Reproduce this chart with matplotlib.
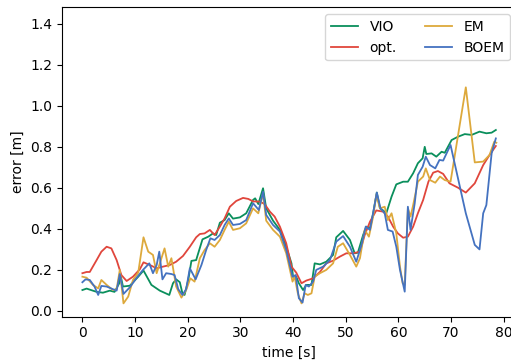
import matplotlib
matplotlib.use("Agg")
import matplotlib.pyplot as plt

vio_t = [0, 0.8, 2.7, 3.9, 5.2, 6.1, 7.0, 7.2, 7.7, 9.0, 10.6, 11.6, 13.1, 14.7, 16.5, 17.2, 17.8, 18.5, 19.0, 19.4,
         20.1, 20.7, 21.6, 22.8, 23.9, 24.8, 25.4, 26.1, 27.0, 27.8, 28.6, 29.9, 31.1, 32.4, 32.8, 33.4, 34.3, 34.9,
         36.2, 37.5, 38.7, 39.7, 40.0, 40.6, 41.1, 41.9, 42.5, 43.5, 44.1, 45.1, 46.3, 47.6, 48.2, 49.5, 50.8, 51.7,
         52.3, 53.3, 53.9, 54.6, 55.2, 55.9, 56.5, 57.1, 57.7, 58.7, 59.6, 60.9, 61.8, 62.8, 63.7, 64.6, 65.0, 65.3,
         66.3, 67.2, 68.2, 68.8, 70.1, 71.3, 72.6, 73.9, 75.4, 76.7, 77.7, 78.5]
vio_v = [0.102, 0.109, 0.093, 0.089, 0.099, 0.093, 0.135, 0.18, 0.119, 0.123, 0.167, 0.197, 0.127, 0.099, 0.078,
         0.135, 0.154, 0.14, 0.085, 0.078, 0.151, 0.244, 0.248, 0.349, 0.362, 0.378, 0.37, 0.43, 0.443, 0.476, 0.45,
         0.456, 0.476, 0.541, 0.549, 0.521, 0.598, 0.50, 0.44, 0.395, 0.313, 0.232, 0.167, 0.167, 0.135, 0.102, 0.127,
         0.127, 0.232, 0.227, 0.24, 0.273, 0.359, 0.39, 0.346, 0.281, 0.284, 0.37, 0.411, 0.403, 0.476, 0.577, 0.50,
         0.49, 0.476, 0.557, 0.617, 0.63, 0.63, 0.671, 0.72, 0.744, 0.80, 0.765, 0.768, 0.752, 0.776, 0.771, 0.833,
         0.849, 0.862, 0.858, 0.874, 0.866, 0.869, 0.882]

opt_t = [0, 0.8, 1.4, 2.7, 3.6, 4.6, 5.5, 6.5, 7.4, 8.4, 9.6, 10.9, 11.6, 12.8, 14.1, 15.3, 16.6, 17.8, 19.1, 20.4,
         21.6, 22.3, 23.2, 24.2, 25.1, 26.1, 27.0, 28.0, 29.2, 30.5, 31.5, 32.4, 33.7, 34.6, 35.6, 36.5, 37.5, 38.7,
         39.7, 40.6, 41.6, 42.5, 43.8, 45.1, 46.3, 47.6, 48.9, 50.1, 51.4, 52.7, 53.6, 54.6, 55.8, 57.1, 58.0, 59.0,
         59.9, 60.9, 61.8, 62.8, 63.7, 64.7, 65.7, 66.6, 67.5, 68.5, 69.7, 71.3, 72.8, 74.5, 76.1, 77.3, 78.5]
opt_v = [0.184, 0.19, 0.19, 0.248, 0.289, 0.313, 0.305, 0.248, 0.175, 0.146, 0.167, 0.203, 0.237, 0.224, 0.208, 0.216,
         0.224, 0.24, 0.268, 0.313, 0.359, 0.375, 0.378, 0.395, 0.37, 0.411, 0.451, 0.508, 0.536, 0.551, 0.546, 0.534,
         0.533, 0.521, 0.484, 0.46, 0.411, 0.33, 0.216, 0.187, 0.135, 0.148, 0.159, 0.19, 0.232, 0.245, 0.265, 0.281,
         0.281, 0.289, 0.37, 0.435, 0.49, 0.484, 0.46, 0.411, 0.378, 0.357, 0.362, 0.411, 0.476, 0.541, 0.63, 0.674,
         0.682, 0.668, 0.622, 0.601, 0.577, 0.622, 0.711, 0.76, 0.804]

em_t = [0, 0.8, 2.0, 3.0, 3.6, 4.6, 5.8, 6.5, 7.1, 7.8, 8.7, 9.6, 10.6, 11.6, 12.5, 13.4, 14.1, 14.7, 15.6, 16.3,
        16.9, 17.8, 18.8, 19.7, 20.5, 21.3, 22.3, 23.2, 24.2, 25.1, 26.1, 27.0, 27.8, 28.6, 29.9, 31.1, 32.4, 33.4,
        34.3, 34.9, 36.2, 37.5, 38.7, 39.9, 40.3, 40.9, 41.6, 42.2, 42.8, 43.5, 44.1, 45.1, 46.3, 47.6, 48.5, 49.5,
        50.8, 52.0, 52.7, 53.6, 54.4, 55.2, 55.8, 56.5, 57.4, 58.0, 58.7, 59.6, 60.3, 60.8, 61.2, 61.8, 62.3, 62.8,
        63.7, 64.7, 65.2, 66.0, 67.0, 67.9, 68.8, 69.9, 72.8, 74.5, 76.1, 77.3, 78.2, 78.6]
em_v = [0.167, 0.162, 0.127, 0.11, 0.151, 0.127, 0.102, 0.106, 0.2, 0.037, 0.07, 0.151, 0.187, 0.359, 0.289, 0.273,
        0.184, 0.232, 0.305, 0.216, 0.257, 0.119, 0.065, 0.102, 0.159, 0.143, 0.257, 0.297, 0.33, 0.313, 0.346, 0.395,
        0.435, 0.395, 0.403, 0.427, 0.50, 0.476, 0.573, 0.44, 0.395, 0.362, 0.281, 0.143, 0.167, 0.086, 0.037, 0.086,
        0.078, 0.086, 0.167, 0.184, 0.2, 0.232, 0.313, 0.33, 0.273, 0.216, 0.257, 0.395, 0.362, 0.46, 0.565, 0.50,
        0.508, 0.443, 0.476, 0.378, 0.216, 0.135, 0.127, 0.50, 0.46, 0.516, 0.63, 0.655, 0.695, 0.638, 0.625, 0.655,
        0.638, 0.63, 1.09, 0.724, 0.728, 0.76, 0.825, 0.82]

boem_t = [0, 0.6, 1.4, 2.3, 3.0, 3.6, 4.6, 5.8, 6.5, 7.1, 7.8, 9.0, 10.3, 11.5, 12.7, 13.4, 14.1, 14.6, 15.2, 15.9,
          16.9, 17.5, 18.2, 19.0, 19.7, 20.4, 21.5, 22.6, 23.5, 24.3, 25.1, 26.1, 27.0, 27.8, 28.6, 29.9, 31.1, 32.4,
          33.5, 34.3, 34.9, 36.2, 37.5, 38.7, 39.9, 40.5, 41.1, 41.8, 42.4, 43.0, 43.8, 44.4, 45.7, 47.0, 48.2, 49.5,
          50.8, 52.0, 53.0, 53.8, 54.6, 55.2, 55.9, 56.6, 57.4, 58.0, 58.9, 59.6, 60.3, 61.2, 61.8, 62.3, 63.1, 63.7,
          64.6, 65.2, 66.0, 67.0, 67.8, 68.5, 69.9, 72.8, 74.5, 75.4, 76.1, 76.7, 77.7, 78.5]
boem_v = [0.14, 0.154, 0.151, 0.119, 0.078, 0.122, 0.119, 0.106, 0.099, 0.18, 0.083, 0.115, 0.162, 0.2, 0.232, 0.184,
          0.224, 0.289, 0.154, 0.184, 0.18, 0.175, 0.106, 0.078, 0.106, 0.208, 0.154, 0.224, 0.297, 0.354, 0.346, 0.37,
          0.419, 0.451, 0.419, 0.424, 0.443, 0.525, 0.492, 0.581, 0.468, 0.419, 0.387, 0.297, 0.167, 0.175, 0.062,
          0.041, 0.127, 0.119, 0.143, 0.2, 0.216, 0.248, 0.338, 0.365, 0.313, 0.24, 0.322, 0.411, 0.395, 0.476, 0.577,
          0.50, 0.476, 0.395, 0.387, 0.313, 0.2, 0.094, 0.508, 0.395, 0.525, 0.663, 0.703, 0.752, 0.711, 0.695, 0.736,
          0.733, 0.809, 0.476, 0.322, 0.30, 0.476, 0.516, 0.768, 0.841]

fig = plt.figure(figsize=(5.11, 3.62), dpi=100)
ax = fig.add_axes([61.7 / 511, 1 - 316.7 / 362, (516.9 - 61.7) / 511, (316.7 - 7.3) / 362])

lw = 1.3
ax.plot(vio_t, vio_v, color='#0a8f5c', lw=lw, label='VIO')
ax.plot(opt_t, opt_v, color='#e0463c', lw=lw, label='opt.')
ax.plot(em_t, em_v, color='#dda93c', lw=lw, label='EM')
ax.plot(boem_t, boem_v, color='#4472c0', lw=lw, label='BOEM')

ax.set_xlim(-3.93, 82.5)
ax.set_ylim(-0.028, 1.48)
ax.set_xticks([0, 10, 20, 30, 40, 50, 60, 70, 80])
ax.set_yticks([0.0, 0.2, 0.4, 0.6, 0.8, 1.0, 1.2, 1.4])
ax.set_xlabel('time [s]')
ax.set_ylabel('error [m]')
ax.legend(ncol=2, loc='upper right')

fig.savefig('out.png', dpi=100)
